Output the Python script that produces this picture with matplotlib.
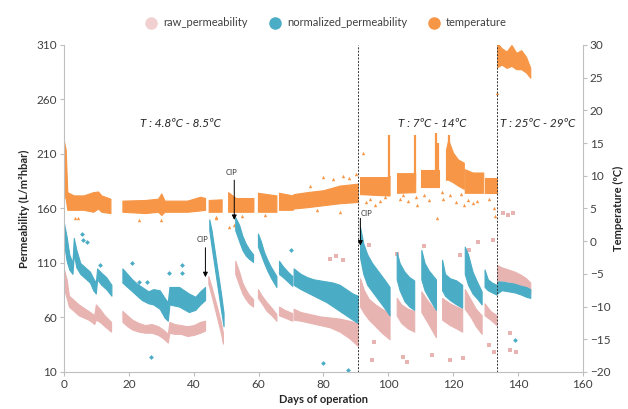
import numpy as np
import matplotlib
matplotlib.use("Agg")
from matplotlib import pyplot as plt
from matplotlib.lines import Line2D

plt.rcParams['font.family'] = ['Lato', 'DejaVu Sans']

PINK = "#e8b4b2"
BLUE = "#4bacc6"
ORANGE = "#f79646"

# bands: each segment is a list of (day, low, high)
raw_bands = [
    [(0, 86, 104), (0.8, 78, 95), (1.5, 70, 80), (3, 66, 76), (4.5, 62, 72), (6, 60, 69),
     (7.5, 58, 66), (8.5, 56, 64), (9.3, 54, 62), (9.8, 58, 72), (11, 56, 68), (12.5, 52, 62), (14.5, 47, 56)],
    [(18, 56, 66), (19.5, 52, 62), (21, 49, 58), (23, 47, 55), (25, 46, 53), (27, 46, 54), (29, 44, 52),
     (30.5, 41, 49), (32, 37, 45), (32.5, 46, 56), (34, 45, 54), (36, 45, 53), (38, 43, 52), (40, 44, 53),
     (42, 46, 56), (43.5, 48, 57)],
    [(44.5, 91, 98), (45.5, 80, 88), (46.5, 68, 77), (47.5, 56, 66), (48.5, 44, 54), (49, 36, 46)],
    [(52.8, 100, 112), (54, 90, 102), (55, 82, 92), (56, 77, 86), (57, 73, 81), (58.3, 70, 77)],
    [(59.8, 78, 86), (61, 73, 80), (62.5, 66, 74), (64, 62, 69), (65.5, 57, 63)],
    [(66.3, 62, 70), (68, 60, 67), (70.4, 57, 64)],
    [(70.8, 58, 68), (73, 57, 65), (76, 55, 63), (79, 53, 61), (82, 51, 60), (85, 47, 59),
     (88, 41, 57), (90.6, 34, 55)],
    [(91.3, 70, 96), (92.5, 64, 85), (94, 58, 77), (96, 52, 72), (98, 46, 68), (100.4, 40, 64)],
    [(102.6, 62, 78), (104, 55, 72), (106, 50, 68), (108, 47, 66)],
    [(110.2, 65, 84), (112, 56, 76), (114.7, 42, 66)],
    [(116.6, 58, 78), (119, 53, 73), (121, 50, 70), (122.8, 47, 68)],
    [(123.6, 68, 86), (125.5, 60, 76), (127, 52, 68), (128.8, 45, 62)],
    [(129.7, 62, 73), (131.5, 58, 66), (133.4, 53, 62)],
    [(133.6, 93, 108), (135, 94, 106), (137, 93, 104), (139, 91, 102), (141, 88, 99),
     (142.5, 85, 96), (143.8, 82, 92)],
]

norm_bands = [
    [(0, 128, 146), (0.8, 112, 134), (1.6, 104, 118), (2.6, 100, 110), (3, 118, 133), (3.8, 106, 122),
     (5, 100, 110), (6.5, 96, 106), (8, 92, 102), (9, 85, 96), (9.8, 82, 92), (10.2, 95, 105),
     (11.5, 90, 101), (13, 86, 97), (14.6, 80, 90)],
    [(18, 92, 105), (19.5, 88, 100), (21, 84, 95), (22.5, 80, 91), (24, 76, 88), (26, 73, 84),
     (27.5, 72, 86), (29.5, 68, 85), (31, 60, 78), (32, 57, 74), (32.5, 72, 88), (35.5, 70, 88),
     (38.5, 65, 82), (40.5, 67, 79), (42, 72, 84), (43.5, 76, 88)],
    [(44.8, 140, 150), (45.5, 125, 140), (46.5, 105, 120), (47.5, 85, 100), (48.5, 65, 80), (49.2, 52, 64)],
    [(52.8, 140, 152), (54, 130, 145), (55, 122, 135), (56, 117, 128), (57, 114, 123), (58.3, 111, 118)],
    [(59.8, 125, 137), (60.7, 118, 130), (61.7, 110, 120), (62.7, 103, 113), (63.7, 97, 107),
     (64.7, 92, 102), (65.5, 88, 98)],
    [(66.3, 100, 112), (67.5, 97, 107), (69, 93, 102), (70.4, 89, 98)],
    [(70.8, 90, 105), (73, 86, 100), (75, 83, 97), (77, 80, 95), (79, 77, 94), (81, 74, 93),
     (83, 70, 92), (85, 66, 90), (87, 62, 86), (89, 58, 82), (90.6, 55, 80)],
    [(91.3, 115, 143), (92.3, 100, 128), (93.5, 90, 118), (95, 84, 110), (97, 76, 102),
     (99, 68, 94), (100.4, 62, 88)],
    [(102.6, 95, 120), (103.5, 85, 110), (105, 75, 102), (106.5, 70, 97), (108, 67, 94)],
    [(110.2, 95, 122), (111.2, 85, 110), (112.5, 78, 103), (114.7, 67, 95)],
    [(116.6, 85, 113), (117.5, 80, 100), (119, 76, 96), (121, 72, 94), (122.8, 69, 90)],
    [(123.6, 100, 125), (124.6, 90, 118), (126, 82, 102), (127.5, 77, 92), (128.8, 72, 84)],
    [(129.7, 88, 104), (130.7, 85, 95), (132, 83, 92), (133.4, 81, 90)],
    [(133.6, 82, 93), (135, 85, 93), (137, 84, 92), (139, 83, 91), (141, 81, 89),
     (142.5, 79, 88), (143.8, 78, 86)],
]

temp_bands = [
    [(0, 7, 15.2), (0.5, 6.5, 14), (1.0, 4.8, 7.5), (3, 4.8, 7), (6, 4.8, 7), (9, 4.5, 7.5),
     (10.5, 5, 7.6), (11.5, 4.5, 7), (14.3, 4.3, 6.5)],
    [(18, 4.5, 6.2), (25, 4.3, 6.3), (29, 4.5, 6.5), (30, 4.0, 7.3), (31, 4.5, 6.2), (38, 4.5, 6.2),
     (42, 4.7, 6.8), (43.5, 4.8, 6.6)],
    [(44.6, 4.5, 6.3), (48.6, 4.5, 6.4)],
    [(50.6, 4.5, 7.5), (53, 4.5, 6.6), (58.4, 4.5, 6.6)],
    [(59.8, 4.5, 7.4), (65.5, 4.5, 7.0)],
    [(66.3, 4.8, 7.4), (70.5, 4.8, 7.0), (70.8, 5.0, 7.2), (75, 5.2, 7.5), (80, 5.5, 7.8),
     (85, 5.8, 8.5), (90.6, 6.0, 8.8)],
    [(91.3, 7.2, 9.8), (99.5, 7.0, 9.8), (100.4, 7.0, 10)],
    [(102.7, 7.4, 10.4), (108.3, 7.5, 10.4)],
    [(110, 8.3, 10.9), (115.6, 8.3, 10.9)],
    [(117.8, 9.4, 14), (118.5, 9.4, 15.5), (120, 9.0, 13.5), (121.5, 8.5, 12.5), (123.3, 8, 12)],
    [(123.6, 7.4, 11), (126, 7.4, 10.5), (129.3, 7.4, 10.5)],
    [(129.7, 7.4, 9.7), (133.4, 7.4, 9.7)],
    [(133.6, 26.6, 30.3), (135, 27, 29.5), (136.5, 26.5, 29), (138, 26.8, 30), (139.5, 26.3, 28.8),
     (141, 26.3, 29.2), (142.5, 25.8, 28.2), (143.8, 25, 26.5)],
]

# tall columns of temperature dots (day, low, high)
temp_spikes = [(100.3, 9, 16.2), (108.2, 9, 16.2), (114.8, 10, 16.5), (115.3, 10, 15), (118.8, 12, 16.2)]

# stray points
raw_out_d = [95.7, 95, 104.6, 105.8, 113.5, 119, 123, 131, 132.7, 137.4, 137.4, 139.5,
             82, 84, 86, 94, 111, 132.4, 124.8, 122, 102.8, 127.8, 135.5, 137, 138.5]
raw_out_v = [37.5, 21, 23.8, 19, 25.6, 21, 23, 35, 28, 46, 30, 28,
             114, 116, 113, 126.5, 126, 131, 122, 117, 118, 129, 156, 154, 156]
norm_out_d = [26.9, 79.8, 87.5, 139.2, 5.8, 7, 11, 70, 5.5, 21, 32.4, 36.4, 36.4, 23, 25.7]
norm_out_v = [24, 18, 12, 39, 131, 129, 108, 122, 137, 110, 101, 108, 101, 92.6, 92.6]
temp_out_d = [92.2, 93, 94.5, 96, 97.5, 99, 103.5, 104.5, 106, 108.5, 109, 111, 112.5, 115, 116.5,
              117, 119, 121, 122.5, 123.5, 124.5, 126, 127.5, 131, 132.5, 133, 80, 83, 86, 88, 76,
              90, 85, 78, 62, 55, 47, 50.8, 3.4, 4.4, 23.2, 30, 46.8, 52.3, 133.6]
temp_out_v = [13.5, 6.0, 6.5, 5.5, 6.2, 6.8, 6.5, 7.0, 6.2, 6.8, 5.5, 7.0, 6.3, 3.5, 7.5,
              6.5, 7.0, 6.0, 7.2, 5.5, 6.3, 5.8, 6.2, 6.5, 5.0, 3.8, 9.8, 9.5, 10, 9.6, 8.5,
              10.2, 4.5, 4.8, 4, 3.8, 3.5, 2.2, 3.5, 3.5, 3.2, 3.2, 3.7, 2.5, 22.7]

cip_days = [43.6, 52.5, 91.4]
cip_tip = [97, 149.5, 126]
cip_tail = [124, 186, 151]
dashed_days = [90.7, 133.5]
ranges = ["T : 4.8ºC - 8.5ºC", "T : 7ºC - 14ºC", "T : 25ºC - 29ºC"]
range_days = [35.8, 113.5, 146]


def draw_bands(axis, bands, color):
    for seg in bands:
        d = [p[0] for p in seg]
        lo = [p[1] for p in seg]
        hi = [p[2] for p in seg]
        axis.fill_between(d, lo, hi, color=color, lw=0.8, edgecolor=color)


fig = plt.figure(figsize=(6.28, 4.09), dpi=100)
ax = fig.add_axes([0.102, 0.0905, 0.826, 0.7995])
ax2 = ax.twinx()
ax.set_zorder(ax2.get_zorder() + 1)
ax.patch.set_visible(False)

draw_bands(ax, raw_bands, PINK)
ax.scatter(raw_out_d, raw_out_v, s=6, color=PINK, marker='s', lw=0)
draw_bands(ax, norm_bands, BLUE)
ax.scatter(norm_out_d, norm_out_v, s=6, color=BLUE, marker='D', lw=0)

draw_bands(ax2, temp_bands, ORANGE)
ax2.vlines([s[0] for s in temp_spikes], [s[1] for s in temp_spikes], [s[2] for s in temp_spikes],
           color=ORANGE, lw=1.6)
ax2.scatter(temp_out_d, temp_out_v, s=6, color=ORANGE, marker='^', lw=0)

for d in dashed_days:
    ax.axvline(d, color='#333333', lw=0.7, ls=(0, (2, 1.5)))

for d, tip, tail in zip(cip_days, cip_tip, cip_tail):
    ax.annotate('', xy=(d, tip), xytext=(d, tail),
                arrowprops=dict(arrowstyle='-|>', color='black', lw=0.7, mutation_scale=7,
                                shrinkA=0, shrinkB=0))
ax.text(42.6, 128.5, 'CIP', fontsize=5.5, ha='center', va='bottom', color='#333333')
ax.text(51.7, 190, 'CIP', fontsize=5.5, ha='center', va='bottom', color='#333333')
ax.text(93.2, 152.5, 'CIP', fontsize=5.5, ha='center', va='bottom', color='#333333')

for txt, d in zip(ranges, range_days):
    ax.text(d, 238, txt, fontsize=8.5, style='italic', ha='center', va='center', color='#262626')

ax.set_xlim(0, 160)
ax.set_ylim(10, 310)
ax.set_xticks(np.arange(0, 161, 20))
ax.set_yticks(np.arange(10, 311, 50))
ax2.set_ylim(-20, 30)
ax2.set_yticks(np.arange(-20, 31, 5))

for a in (ax, ax2):
    a.spines['top'].set_visible(False)
    for s in a.spines.values():
        s.set_color('#bfbfbf')
    a.tick_params(colors='#bfbfbf', labelcolor='#404040', labelsize=8.5, length=3, pad=2)
ax.spines['right'].set_visible(False)
ax2.spines['left'].set_visible(False)
ax2.spines['bottom'].set_visible(False)

ax.set_xlabel('Days of operation', fontsize=8, fontweight='bold', labelpad=3, color='#262626')
ax.set_ylabel('Permeability (L/m²hbar)', fontsize=8, fontweight='bold', labelpad=5, color='#262626')
ax2.set_ylabel('Temperature (ºC)', fontsize=8, fontweight='bold', labelpad=2, color='#262626')

handles = [Line2D([], [], ls='', marker='o', ms=8, color='#f0d0d0'),
           Line2D([], [], ls='', marker='o', ms=8, color=BLUE),
           Line2D([], [], ls='', marker='o', ms=8, color=ORANGE)]
ax.legend(handles, ['raw_permeability', 'normalized_permeability', 'temperature'],
          loc='lower center', bbox_to_anchor=(0.5, 1.02), ncol=3, frameon=False,
          fontsize=8, handletextpad=0.1, columnspacing=1.4, labelcolor='#404040')

fig.savefig('out.png', dpi=100)
